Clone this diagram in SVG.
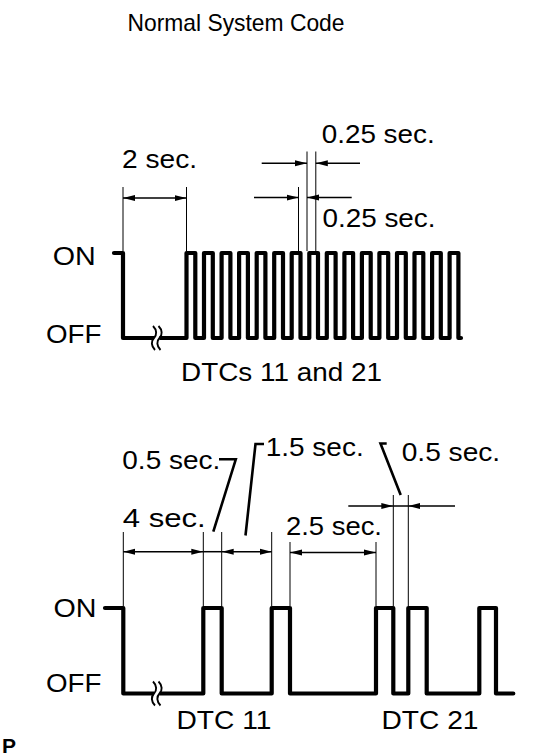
<svg xmlns="http://www.w3.org/2000/svg" width="555" height="756" viewBox="0 0 555 756">
<style>
text{font-family:"Liberation Sans",Arial,sans-serif;font-size:26px;fill:#000}
.title{font-size:24px}
.wave{fill:none;stroke:#000;stroke-width:4.2;stroke-linejoin:round;stroke-linecap:round}
.ext{stroke:#000;stroke-width:1}
.dim{stroke:#000;stroke-width:1.5;fill:none}
.lead{stroke:#000;stroke-width:2.6;fill:none;stroke-linejoin:miter}
</style>
<defs>
<marker id="ah" viewBox="0 0 12 7" refX="12" refY="3.5" markerWidth="12" markerHeight="7" markerUnits="userSpaceOnUse" orient="auto-start-reverse">
<path d="M0,0.5 L12,3.5 L0,6.5 z" fill="#000"/>
</marker>
<g id="brk">
<rect x="0" y="-3" width="5.5" height="6" fill="#fff"/>
<path d="M-1,-12 C3,-8 3,-3 0,0 S-3,8 1,12 M4.5,-12 C8.5,-8 8.5,-3 5.5,0 S2.5,8 6.5,12" fill="none" stroke="#000" stroke-width="1.9"/>
</g>
</defs>
<rect width="555" height="756" fill="#fff"/>

<g id="title"><text class="title" x="127.5" y="31" textLength="217" lengthAdjust="spacingAndGlyphs">Normal System Code</text></g>

<g id="normal-code">
<text x="52.8" y="265" textLength="43" lengthAdjust="spacingAndGlyphs">ON</text>
<text x="46" y="343" textLength="55.5" lengthAdjust="spacingAndGlyphs">OFF</text>
<path class="wave" d="M114,253 H123 V338 H186.5 V253 H195.3 V338 H204 V253 H212.8 V338 H221.6 V253 H230.4 V338 H239.1 V253 H247.9 V338 H256.7 V253 H265.4 V338 H274.2 V253 H283 V338 H291.7 V253 H300.5 V338 H309.3 V253 H318 V338 H326.8 V253 H335.6 V338 H344.4 V253 H353.1 V338 H361.9 V253 H370.7 V338 H379.4 V253 H388.2 V338 H397 V253 H405.8 V338 H414.5 V253 H423.3 V338 H432.1 V253 H440.8 V338 H449.6 V253 H458.4 V338 H461"/>
<use href="#brk" x="154" y="338"/>
<text x="181" y="381" textLength="201" lengthAdjust="spacingAndGlyphs">DTCs 11 and 21</text>
</g>

<g id="normal-dims">
<text x="122" y="168" textLength="75" lengthAdjust="spacingAndGlyphs">2 sec.</text>
<text x="321.7" y="143" textLength="113" lengthAdjust="spacingAndGlyphs">0.25 sec.</text>
<text x="322.5" y="227" textLength="113" lengthAdjust="spacingAndGlyphs">0.25 sec.</text>
</g>

<g id="dtc-code">
<text x="53.5" y="617" textLength="43" lengthAdjust="spacingAndGlyphs">ON</text>
<text x="46" y="692" textLength="55.5" lengthAdjust="spacingAndGlyphs">OFF</text>
<path class="wave" d="M105,608 H123.3 V693.5 H203.3 V608 H221.7 V693.5 H271.7 V608 H290 V693.5 H376 V608 H393.3 V693.5 H408.3 V608 H426.7 V693.5 H479.3 V608 H496 V693.5 H513.3"/>
<use href="#brk" x="154" y="693.5"/>
<text x="176.5" y="728.5" textLength="95" lengthAdjust="spacingAndGlyphs">DTC 11</text>
<text x="381.5" y="728.5" textLength="97" lengthAdjust="spacingAndGlyphs">DTC 21</text>
</g>

<g id="dtc-dims">
<text x="122.3" y="468.5" textLength="98" lengthAdjust="spacingAndGlyphs">0.5 sec.</text>
<text x="265.7" y="456" textLength="98" lengthAdjust="spacingAndGlyphs">1.5 sec.</text>
<text x="401.7" y="461" textLength="98.5" lengthAdjust="spacingAndGlyphs">0.5 sec.</text>
<text x="122.7" y="527" textLength="83" lengthAdjust="spacingAndGlyphs">4 sec.</text>
<text x="286" y="535" textLength="96" lengthAdjust="spacingAndGlyphs">2.5 sec.</text>
</g>

<g id="connectors">
<g id="ext-lines">
<line class="ext" x1="123" y1="187" x2="123" y2="251"/>
<line class="ext" x1="186.5" y1="187" x2="186.5" y2="251"/>
<line class="ext" x1="298.5" y1="187" x2="298.5" y2="251"/>
<line class="ext" x1="307" y1="151.5" x2="307" y2="251"/>
<line class="ext" x1="315.8" y1="151.5" x2="315.8" y2="251"/>
<line class="ext" x1="123.3" y1="532" x2="123.3" y2="606"/>
<line class="ext" x1="203.3" y1="532" x2="203.3" y2="606"/>
<line class="ext" x1="221.7" y1="532" x2="221.7" y2="606"/>
<line class="ext" x1="271.7" y1="532" x2="271.7" y2="606"/>
<line class="ext" x1="290" y1="542" x2="290" y2="606"/>
<line class="ext" x1="376" y1="542" x2="376" y2="606"/>
<line class="ext" x1="393.3" y1="495" x2="393.3" y2="606"/>
<line class="ext" x1="408.3" y1="495" x2="408.3" y2="606"/>
</g>
<g id="dim-arrows">
<line class="dim" x1="123" y1="198" x2="186.5" y2="198" marker-start="url(#ah)" marker-end="url(#ah)"/>
<line class="dim" x1="261.7" y1="163.3" x2="307" y2="163.3" marker-end="url(#ah)"/>
<line class="dim" x1="360" y1="163.3" x2="315.8" y2="163.3" marker-end="url(#ah)"/>
<line class="dim" x1="254" y1="197.5" x2="298.5" y2="197.5" marker-end="url(#ah)"/>
<line class="dim" x1="351.7" y1="197.5" x2="307" y2="197.5" marker-end="url(#ah)"/>
<line class="dim" x1="123.3" y1="551.7" x2="203.3" y2="551.7" marker-start="url(#ah)" marker-end="url(#ah)"/>
<line class="dim" x1="203.3" y1="551.7" x2="221.7" y2="551.7"/>
<line class="dim" x1="221.7" y1="551.7" x2="271.7" y2="551.7" marker-start="url(#ah)" marker-end="url(#ah)"/>
<line class="dim" x1="290" y1="552.5" x2="376" y2="552.5" marker-start="url(#ah)" marker-end="url(#ah)"/>
<line class="dim" x1="348.3" y1="506" x2="393.3" y2="506" marker-end="url(#ah)"/>
<line class="dim" x1="393.3" y1="506" x2="408.3" y2="506"/>
<line class="dim" x1="455" y1="506" x2="408.3" y2="506" marker-end="url(#ah)"/>
</g>
<g id="leaders">
<polyline class="lead" points="219,459.3 235.8,459.3 213.3,531.7"/>
<polyline class="lead" points="264,444 255.5,444 245.5,535.5"/>
<polyline class="lead" points="386.7,443.5 380.5,443.5 400.7,495"/>
</g>
</g>

<g id="label-p"><text x="2" y="753" style="font-size:21px;font-weight:bold">P</text></g>
</svg>
